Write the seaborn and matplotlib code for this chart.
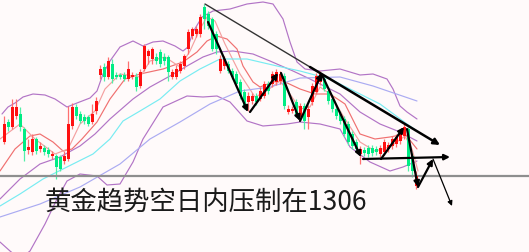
import numpy as np
import pandas as pd
import matplotlib
matplotlib.use("Agg")
import matplotlib.pyplot as plt
import seaborn as sns

# ---- candle data (chart units) ----
opens = [110, 130, 125, 136, 138, 123, 102, 100, 113, 103, 104, 102, 96, 96, 95, 91, 93, 126, 145, 138,
         135, 135, 130, 141, 177, 185, 175, 188, 177, 177, 177, 173, 175, 175, 166, 183, 196, 193, 195, 200,
         195, 195, 175, 175, 181, 186, 203, 216, 218, 218, 245, 238, 233, 218, 181, 186, 188, 181, 178, 170,
         160, 150, 151, 156, 153, 156, 168, 168, 170, 171, 176, 140, 141, 150, 135, 146, 135, 150, 160, 170,
         173, 161, 153, 143, 138, 133, 128, 118, 110, 98, 102, 104, 104, 103, 98, 100, 103, 106, 108, 111,
         116, 123, 96, 66]
closes = [128, 125, 145, 145, 125, 101, 105, 113, 101, 106, 100, 98, 98, 85, 83, 96, 128, 145, 136, 131,
          131, 128, 138, 151, 183, 175, 191, 173, 175, 175, 173, 183, 177, 165, 180, 206, 201, 203, 191, 188,
          191, 180, 180, 183, 188, 196, 220, 223, 223, 235, 233, 226, 203, 203, 193, 193, 181, 175, 168, 156,
          146, 156, 156, 150, 161, 168, 161, 178, 180, 178, 146, 143, 143, 138, 146, 131, 143, 166, 176, 178,
          163, 151, 143, 136, 131, 118, 110, 106, 103, 103, 99, 98, 99, 100, 104, 110, 107, 113, 115, 120,
          125, 86, 81, 76]
highs = [136, 133, 153, 153, 145, 125, 113, 118, 115, 110, 107, 105, 101, 98, 97, 101, 146, 149, 148, 141,
         138, 137, 148, 155, 187, 189, 195, 193, 180, 179, 180, 191, 180, 179, 183, 208, 203, 205, 199, 203,
         199, 197, 183, 187, 191, 198, 223, 225, 226, 238, 248, 241, 235, 221, 197, 196, 191, 184, 181, 173,
         163, 160, 159, 159, 165, 171, 171, 181, 183, 181, 179, 147, 146, 153, 149, 149, 147, 169, 179, 181,
         177, 165, 156, 147, 141, 136, 131, 121, 113, 106, 105, 107, 107, 106, 107, 113, 110, 116, 118, 123,
         128, 125, 99, 81]
lows = [108, 121, 123, 133, 121, 91, 98, 97, 98, 100, 97, 95, 93, 73, 81, 88, 91, 123, 133, 129,
        128, 126, 128, 138, 173, 171, 173, 169, 173, 173, 171, 171, 173, 161, 164, 181, 188, 188, 188, 185,
        187, 171, 173, 173, 179, 183, 198, 213, 215, 215, 223, 223, 201, 198, 179, 183, 179, 173, 165, 153,
        143, 141, 148, 147, 151, 154, 158, 165, 167, 168, 143, 138, 139, 135, 133, 123, 123, 147, 158, 167,
        161, 148, 140, 133, 128, 115, 107, 103, 101, 88, 96, 95, 96, 97, 95, 97, 100, 103, 105, 108,
        113, 81, 75, 63]

# ---- indicator lines (bar number, value) ----
boll_up_x = [-0.5, 1, 2.75, 4.75, 7.25, 10.25, 12.75, 15.75, 18.25, 21.5, 23.25, 24.75, 26.5, 29, 32.25,
             34.75, 37.25, 39.75, 42.75, 44.75, 46, 47.25, 49.5, 52.25, 56.5, 60.75, 64.75, 67.25, 69.75,
             71.5, 73.25, 75.25, 79, 84, 89, 92.25, 95.75, 97.25, 99, 100.75, 103.25]
boll_up_v = [138, 145, 149, 155, 158, 157, 153, 145, 149, 154, 161, 178, 191, 205, 211,
             206, 210, 211, 206, 201, 205, 220, 235, 241, 243, 248, 250, 248, 233,
             210, 190, 183, 181, 183, 177, 178, 173, 163, 146, 140, 133]
boll_mid_x = [-1, 4, 9, 14, 19, 22.75, 26.5, 32.25, 36.5, 41.5, 45.75, 49.75, 53.25, 57.25, 62.25,
              66.5, 72.25, 76.5, 84, 89, 94, 99, 103.25]
boll_mid_v = [53, 73, 88, 95, 106, 118, 133, 153, 165, 176, 186, 195, 200, 201, 198,
              191, 181, 173, 158, 140, 128, 120, 111]
boll_low_x = [-1, 1.5, 4, 6.5, 10.25, 13.25, 15.75, 19, 23.25, 25.75, 29, 32.25, 34.75, 39.75, 45.75,
              49.75, 53.25, 56.5, 60.75, 64.75, 70.75, 74, 79, 84, 86.5, 91.5, 96.5, 99.75, 103.25]
boll_low_v = [10, 1, -7, 1, 28, 53, 71, 78, 76, 67, 68, 90, 113, 145, 156,
              155, 156, 150, 131, 126, 128, 130, 128, 123, 105, 90, 81, 85, 91]
ma_slow_x = [-1, 2.75, 6.5, 9, 12.25, 14.75, 17, 19.5, 23.25, 26.5, 30.25, 34, 39.75, 44.75, 48.25,
             50.75, 53.25, 55.75, 58.25, 59.75, 62.25, 64, 67.25, 69.75, 74, 77.75, 81.5, 85.25, 89,
             92.75, 96.5, 100.25, 103.25]
ma_slow_v = [81, 103, 116, 118, 110, 101, 103, 113, 130, 153, 173, 178, 183, 190, 200,
             211, 216, 213, 203, 186, 170, 165, 170, 171, 163, 158, 158, 148, 118,
             113, 115, 118, 103]
ma_fast_x = [-1, 4, 7.75, 12.75, 16, 19, 22.75, 25.25, 29, 34, 36.5, 40.25, 44, 46.5, 49, 50.75, 52.75,
             55.25, 59, 62.75, 65.25, 69, 71.5, 74, 76.5, 79, 81.5, 85.25, 89, 92.75, 96.5, 100.25, 102,
             103.5]
ma_fast_v = [113, 128, 113, 98, 103, 128, 141, 163, 178, 175, 191, 195, 185, 201, 223, 235, 231,
             208, 178, 155, 160, 171, 158, 143, 145, 165, 158, 133, 110, 101, 105, 116, 103,
             81]
ma_cyan_x = [-1, 4, 9.75, 15.75, 22.25, 26.5, 29.75, 34, 39, 44, 49, 54, 60.75, 68.25, 74, 81.5, 86.5,
             94, 100.75, 103.25]
ma_cyan_v = [46, 58, 73, 85, 98, 113, 131, 141, 153, 171, 183, 193, 193, 186, 181, 173, 163,
             148, 128, 121]
ma_long_x = [-1, 9, 19, 29, 36.5, 44, 51.5, 59, 66.5, 74, 84, 92.25, 103.25]
ma_long_v = [35, 48, 65, 88, 113, 130, 148, 161, 165, 174, 175, 166, 151]

# ---- annotation arrows (bar number, value) ----
trend_thin = ((50.25, 248), (76.5, 185))
trend_thick = ((76.5, 185), (109, 107))
wave_arrows = [((51.0, 230), (61, 140)),
               ((61.5, 140), (68.5, 179)),
               ((69.25, 179), (74, 131)),
               ((74, 131), (79.5, 179)),
               ((79.5, 177), (89.25, 95)),
               ((94.25, 93), (100, 125)),
               ((89.75, 93), (111.5, 95)),
               ((100.75, 123), (103.5, 65)),
               ((103.5, 65), (107.25, 93))]
thin_arrow = ((107.25, 93), (112, 46))
support_level = 76
caption = "黄金趋势空日内压制在1306"

sns.set_style("white")
plt.rcParams["font.family"] = ["Noto Sans CJK SC", "DejaVu Sans"]

bg = "#FFFAFA"
fig = plt.figure(figsize=(5.29, 2.53), dpi=100, facecolor=bg)
ax = fig.add_axes([0, 0, 1, 1])
ax.set_facecolor(bg)

frames = []
for name, xs, vs in [("boll_up", boll_up_x, boll_up_v), ("boll_mid", boll_mid_x, boll_mid_v),
                     ("boll_low", boll_low_x, boll_low_v), ("ma_slow", ma_slow_x, ma_slow_v),
                     ("ma_fast", ma_fast_x, ma_fast_v), ("ma_cyan", ma_cyan_x, ma_cyan_v),
                     ("ma_long", ma_long_x, ma_long_v)]:
    frames.append(pd.DataFrame({"bar": xs, "value": vs, "series": name}))
lines = pd.concat(frames, ignore_index=True)
palette = {"boll_up": "#B274C6", "boll_mid": "#B274C6", "boll_low": "#B274C6",
           "ma_slow": "#F07070", "ma_fast": "#F4A0A0", "ma_cyan": "#78ECF2", "ma_long": "#ABABF2"}
sns.lineplot(data=lines, x="bar", y="value", hue="series", palette=palette, estimator=None,
             legend=False, linewidth=0.85, ax=ax, zorder=1)

# candles
o = np.array(opens, float); c = np.array(closes, float)
h = np.array(highs, float); l = np.array(lows, float)
bars = np.arange(len(o))
up = c >= o
body_col = np.where(up, "#FF1010", "#00EC84")
wick_col = np.where(up, "#FF7070", "#50F0A8")
ax.vlines(bars, l, h, colors=wick_col, linewidth=0.9, zorder=2)
ax.bar(bars, np.maximum(np.abs(c - o), 1.5), bottom=np.minimum(o, c), width=0.75,
       color=body_col, linewidth=0, zorder=3)

ax.axhline(support_level, color="#8E8E8E", linewidth=1.6, zorder=2.5)

# annotations
ax.plot([trend_thin[0][0], trend_thin[1][0]], [trend_thin[0][1], trend_thin[1][1]],
        color="#333333", linewidth=1.0, zorder=4)
ax.annotate("", xy=trend_thick[1], xytext=trend_thick[0],
            arrowprops=dict(arrowstyle="-|>", color="black", lw=1.8, mutation_scale=9,
                            shrinkA=0, shrinkB=0), zorder=4)
for start, end in wave_arrows:
    ax.annotate("", xy=end, xytext=start,
                arrowprops=dict(arrowstyle="-|>", color="black", lw=1.6, mutation_scale=8,
                                shrinkA=0, shrinkB=0), zorder=4)
ax.annotate("", xy=thin_arrow[1], xytext=thin_arrow[0],
            arrowprops=dict(arrowstyle="-|>", color="black", lw=0.9, mutation_scale=7,
                            shrinkA=0, shrinkB=0), zorder=4)

ax.text(10.25, 51, caption, fontsize=19, fontweight="light", color="#1A1A1A",
        ha="left", va="center", zorder=5)

ax.set_xlim(-1, 131.25)
ax.set_ylim(0, 253)
ax.axis("off")
fig.savefig("out.png", dpi=100, facecolor=bg)
